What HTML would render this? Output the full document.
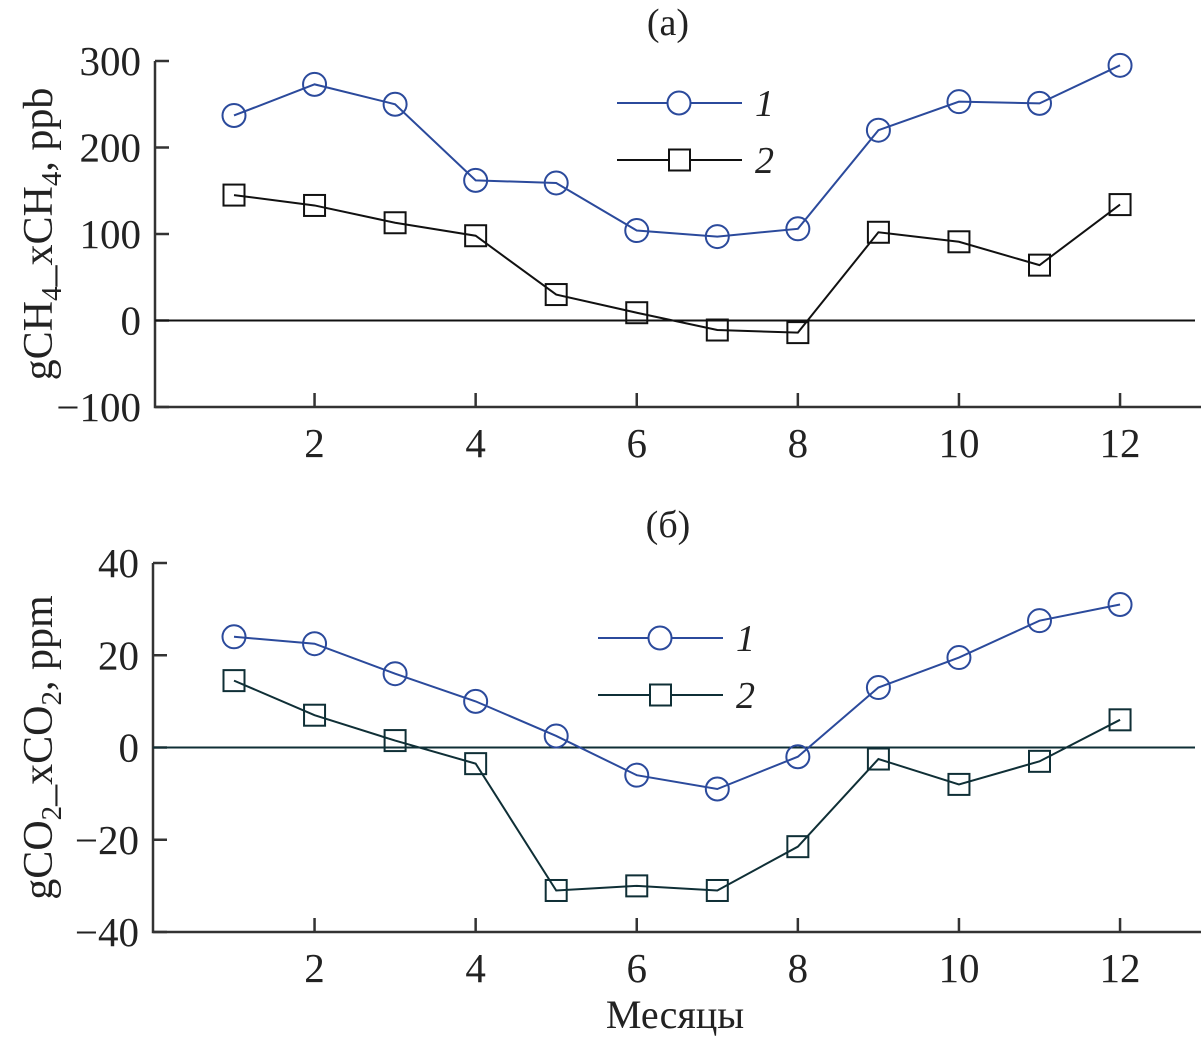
<!DOCTYPE html>
<html><head><meta charset="utf-8"><style>
body{margin:0;background:#fff}
svg text{font-family:"Liberation Serif",serif;fill:#222}
</style></head><body>
<svg id="c" width="1201" height="1041" xmlns="http://www.w3.org/2000/svg"></svg>
<script>
const months=[1,2,3,4,5,6,7,8,9,10,11,12];
const xTicks=[2,4,6,8,10,12];
const ch4S1=[237,273,250,162,159,104,97,106,220,253,251,295];
const ch4S2=[145,133,113,98,30,9,-11,-14,102,91,64,134];
const ch4Ticks=[300,200,100,0,-100];
const co2S1=[24,22.5,16,10,2.5,-6,-9,-2,13,19.5,27.5,31];
const co2S2=[14.5,7,1.5,-3.5,-31,-30,-31,-21.5,-2.5,-8,-3,6];
const co2Ticks=[40,20,0,-20,-40];
const NS='http://www.w3.org/2000/svg';
const svg=document.getElementById('c');
function el(t,a,p){const e=document.createElementNS(NS,t);for(const k in a)e.setAttribute(k,a[k]);(p||svg).appendChild(e);return e;}
const xS=m=>234+(m-1)*80.55;
function panel(cfg){
  const g=el('g',{});
  
  
  const yS=v=>cfg.y0+(cfg.max-v)/(cfg.max-cfg.min)*(cfg.y1-cfg.y0);
  const ax=el('path',{d:`M${cfg.ax} ${cfg.y0} V${cfg.y1} H1201`,stroke:'#333',fill:'none','stroke-width':2.5},g);
  
  
  cfg.ticks.forEach(v=>{
    const y=yS(v);
    el('line',{x1:cfg.ax,x2:cfg.ax+14,y1:y,y2:y,stroke:'#333','stroke-width':2.5},g);
    const t=el('text',{x:cfg.ax-14,y:y+14,'text-anchor':'end','font-size':41},g);
    t.textContent=(v<0?'\u2212'+(-v):v);
    
    
  });
  xTicks.forEach(m=>{
    el('line',{x1:xS(m),x2:xS(m),y1:cfg.y1,y2:cfg.y1-14,stroke:'#333','stroke-width':2.5},g);
    const t=el('text',{x:xS(m),y:cfg.y1+50,'text-anchor':'middle','font-size':41},g);
    t.textContent=m;
    
    
  });
  const z=el('line',{x1:cfg.ax,x2:1195,y1:yS(0),y2:yS(0),stroke:cfg.c2,'stroke-width':2},g);
  
  
  const tt=el('text',{x:668,y:cfg.y0-26,'text-anchor':'middle','font-size':38},g);
  tt.textContent=cfg.title;
  
  
  const yl=el('text',{x:0,y:0,'text-anchor':'middle','font-size':42,transform:`translate(52 ${(cfg.y0+cfg.y1)/2}) rotate(-90)`},g);
  yl.innerHTML=cfg.ylabel;
  
  
  [[cfg.s1,cfg.c1,'circle'],[cfg.s2,cfg.c2,'square']].forEach(([s,c,mk],i)=>{
    const line=el('polyline',{points:s.map((v,j)=>xS(months[j])+','+yS(v)).join(' '),fill:'none',stroke:c,'stroke-width':2},g);
    
    
    s.forEach((v,j)=>{
      const x=xS(months[j]),y=yS(v);
      let m;
      if(mk==='circle')m=el('circle',{cx:x,cy:y,r:11.5,fill:'none',stroke:c,'stroke-width':2},g);
      else m=el('rect',{x:x-10.5,y:y-10.5,width:21,height:21,fill:'none',stroke:c,'stroke-width':2},g);
      
      
    });
  });
  [[cfg.c1,'circle','1'],[cfg.c2,'square','2']].forEach(([c,mk,lab],i)=>{
    const ly=cfg.legY+i*57, lx=cfg.legX;
    const lg=el('g',{},g);
    
    
    el('line',{x1:lx,x2:lx+125,y1:ly,y2:ly,stroke:c,'stroke-width':2},lg);
    if(mk==='circle')el('circle',{cx:lx+62,cy:ly,r:11.5,fill:'#fff',stroke:c,'stroke-width':2},lg);
    else el('rect',{x:lx+52,y:ly-10.5,width:21,height:21,fill:'#fff',stroke:c,'stroke-width':2},lg);
    const t=el('text',{x:lx+138,y:ly+13,'font-size':38,'font-style':'italic'},lg);
    t.textContent=lab;
  });
}
panel({name:'panel-a-ch4',y0:61,y1:407,max:300,min:-100,ax:155,ticks:ch4Ticks,s1:ch4S1,s2:ch4S2,c1:'#2b4a9c',c2:'#111',title:'(a)',
  ylabel:'gCH<tspan font-size="29" dy="9">4</tspan><tspan dy="-9">_xCH</tspan><tspan font-size="29" dy="9">4</tspan><tspan dy="-9">, ppb</tspan>',legX:617,legY:103});
panel({name:'panel-b-co2',y0:563,y1:932,max:40,min:-40,ax:153,ticks:co2Ticks,s1:co2S1,s2:co2S2,c1:'#2b4a9c',c2:'#0f2f36',title:'(б)',
  ylabel:'gCO<tspan font-size="29" dy="9">2</tspan><tspan dy="-9">_xCO</tspan><tspan font-size="29" dy="9">2</tspan><tspan dy="-9">, ppm</tspan>',legX:598,legY:638});
const xl=el('text',{x:675,y:1028,'text-anchor':'middle','font-size':40});
xl.textContent='Месяцы';


</script>
</body></html>
